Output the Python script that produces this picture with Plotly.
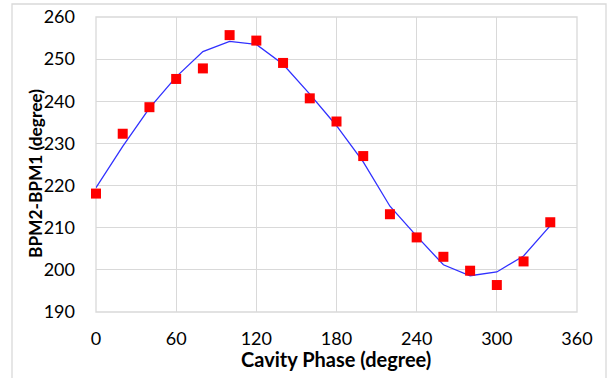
import plotly.graph_objects as go

phase = [0, 20, 40, 60, 80, 100, 120, 140, 160, 180, 200, 220, 240, 260, 280, 300, 320, 340]
measured = [218.1, 232.3, 238.6, 245.3, 247.8, 255.7, 254.4, 249.1, 240.7, 235.2,
            227.0, 213.2, 207.7, 203.1, 199.8, 196.4, 202.0, 211.3]
fit = [219.5, 229.3, 238.4, 245.8, 251.8, 254.2, 253.5, 248.8, 241.7, 234.2,
       225.6, 215.1, 208.0, 201.2, 198.6, 199.5, 203.3, 210.5]

x_ticks = [0, 60, 120, 180, 240, 300, 360]
y_ticks = [190, 200, 210, 220, 230, 240, 250, 260]
x_title = "Cavity Phase (degree)"
y_title = "BPM2-BPM1 (degree)"

W, H = 609, 378
L, R, T, B = 96, 577, 17, 312

fig = go.Figure()
fig.add_trace(go.Scatter(x=phase, y=fit, mode="lines",
                         line=dict(color="#3030ff", width=1.3),
                         showlegend=False, hoverinfo="skip", cliponaxis=False))
fig.add_trace(go.Scatter(x=phase, y=measured, mode="markers",
                         marker=dict(symbol="square", size=10, color="#ff0000",
                                     line=dict(width=0)),
                         showlegend=False, cliponaxis=False))

def px_x(p):
    return (p - L) / (R - L)

def px_y(p):
    return (B - p) / (B - T)

fig.add_shape(type="rect", xref="paper", yref="paper",
              x0=px_x(12), x1=px_x(606), y0=px_y(382), y1=px_y(4),
              line=dict(color="#d9d9d9", width=1.3), fillcolor="rgba(0,0,0,0)",
              layer="below")
fig.add_shape(type="rect", xref="paper", yref="paper",
              x0=0, x1=1, y0=0, y1=1,
              line=dict(color="#d9d9d9", width=1.3), fillcolor="rgba(0,0,0,0)",
              layer="below")

font_family = "Lato, Open Sans, sans-serif"

fig.add_annotation(text="<b>" + x_title + "</b>", xref="paper", yref="paper",
                   x=px_x(336), y=px_y(359), showarrow=False,
                   xanchor="center", yanchor="middle",
                   font=dict(size=20, family=font_family, color="#000"))
fig.add_annotation(text="<b>" + y_title + "</b>", xref="paper", yref="paper",
                   x=px_x(35), y=px_y(174), showarrow=False, textangle=-90,
                   xanchor="center", yanchor="middle",
                   font=dict(size=17.3, family=font_family, color="#000"))

fig.update_layout(
    width=W, height=H,
    margin=dict(l=L, r=W - R, t=T, b=H - B, autoexpand=False),
    paper_bgcolor="white", plot_bgcolor="white",
    font=dict(family=font_family, color="#000000", size=18),
    xaxis=dict(range=[0, 360], tickvals=x_ticks, ticktext=[str(v) for v in x_ticks],
               showgrid=True, gridcolor="#d9d9d9", gridwidth=1.3,
               zeroline=False, showline=False, ticks="", automargin=False,
               ticklabelstandoff=14,
               tickfont=dict(size=18, family=font_family)),
    yaxis=dict(range=[190, 260], tickvals=y_ticks, ticktext=[str(v) for v in y_ticks],
               showgrid=True, gridcolor="#d9d9d9", gridwidth=1.3,
               zeroline=False, showline=False, ticks="", automargin=False,
               ticklabelstandoff=20,
               tickfont=dict(size=18, family=font_family)),
)

fig.write_html("out.html", config={"displayModeBar": False},
               post_script="document.body.style.margin='0px';document.body.style.overflow='hidden';")
